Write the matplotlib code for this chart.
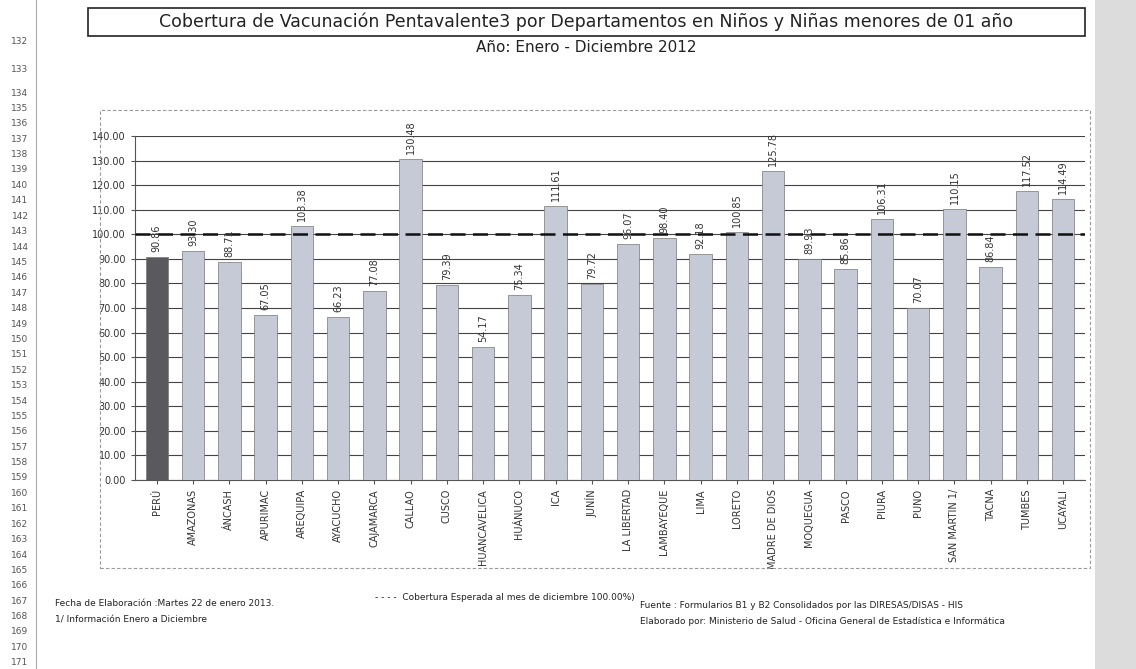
import matplotlib
matplotlib.use("Agg")
import matplotlib.pyplot as plt
from matplotlib.patches import Rectangle

departamentos = ["PERÚ", "AMAZONAS", "ÁNCASH", "APURIMAC", "AREQUIPA", "AYACUCHO",
                 "CAJAMARCA", "CALLAO", "CUSCO", "HUANCAVELICA", "HUÁNUCO", "ICA",
                 "JUNÍN", "LA LIBERTAD", "LAMBAYEQUE", "LIMA", "LORETO", "MADRE DE DIOS",
                 "MOQUEGUA", "PASCO", "PIURA", "PUNO", "SAN MARTIN 1/", "TACNA",
                 "TUMBES", "UCAYALI"]
cobertura = [90.86, 93.30, 88.71, 67.05, 103.38, 66.23,
             77.08, 130.48, 79.39, 54.17, 75.34, 111.61,
             79.72, 96.07, 98.40, 92.18, 100.85, 125.78,
             89.93, 85.86, 106.31, 70.07, 110.15, 86.84,
             117.52, 114.49]
meta = 100.0
yticks = [0, 10, 20, 30, 40, 50, 60, 70, 80, 90, 100, 110, 120, 130, 140]
filas = list(range(132, 172))

W, H = 1136, 669
fig = plt.figure(figsize=(W / 100, H / 100), dpi=100)
fig.patch.set_facecolor("white")

def fx(px):
    return px / W

def fy(py):
    return 1 - py / H

# spreadsheet right gray strip
fig.patches.append(Rectangle((fx(1095), 0), fx(41), 1, transform=fig.transFigure,
                             facecolor="#dcdcdc", edgecolor="none", zorder=0))

# row numbers (spreadsheet)
for n in filas:
    if n == 132:
        yy = 42
    elif n == 133:
        yy = 70
    else:
        yy = 93 + (n - 134) * 15.4
    fig.text(fx(20), fy(yy), str(n), fontsize=6.5, color="#555555",
             ha="center", va="center")
fig.add_artist(plt.Line2D([fx(36), fx(36)], [0, 1], transform=fig.transFigure,
                          color="#aaaaaa", lw=0.8))

# title box
fig.patches.append(Rectangle((fx(88), fy(36)), fx(1085 - 88), 28 / H,
                             transform=fig.transFigure, facecolor="none",
                             edgecolor="#222222", lw=1.2))
fig.text(fx(586), fy(22), "Cobertura de Vacunación Pentavalente3 por Departamentos en Niños y Niñas menores de 01 año",
         fontsize=12.5, ha="center", va="center", color="#222222")
fig.text(fx(586), fy(48), "Año: Enero - Diciembre 2012", fontsize=11, ha="center",
         va="center", color="#222222")

# outer chart box
fig.patches.append(Rectangle((fx(100), fy(568)), fx(1090 - 100), (568 - 110) / H,
                             transform=fig.transFigure, facecolor="none",
                             edgecolor="#999999", lw=0.8, ls=(0, (3, 2))))

ax = fig.add_axes([fx(135), fy(480), fx(1085 - 135), (480 - 136) / H])
x = list(range(len(departamentos)))
colors = ["#5a5a5e"] + ["#c6c9d6"] * (len(departamentos) - 1)
ax.bar(x, cobertura, width=0.62, color=colors, edgecolor="#777777", lw=0.5, zorder=3)
ax.set_ylim(0, 140)
ax.set_xlim(-0.6, len(departamentos) - 0.4)
ax.set_yticks(yticks)
ax.set_yticklabels([f"{v:.2f}" for v in yticks], fontsize=7, color="#333333")
ax.grid(axis="y", color="#444444", lw=0.8, zorder=1)
ax.axhline(meta, color="#111111", lw=1.8, ls=(0, (6, 3)), zorder=4)
ax.set_xticks(x)
ax.set_xticklabels(departamentos, rotation=90, fontsize=7, color="#333333")
ax.tick_params(axis="both", length=3, color="#555555")
for s in ["top", "right"]:
    ax.spines[s].set_visible(False)
ax.spines["left"].set_color("#555555")
ax.spines["bottom"].set_color("#555555")
for xi, v in zip(x, cobertura):
    ax.text(xi, v + 2, f"{v:.2f}", rotation=90, ha="center", va="bottom",
            fontsize=7, color="#333333", zorder=5)

# footer
fig.text(fx(55), fy(603), "Fecha de Elaboración :Martes 22 de enero 2013.", fontsize=6.5,
         va="center", color="#222222")
fig.text(fx(55), fy(620), "1/ Información Enero a Diciembre", fontsize=6.5,
         va="center", color="#222222")
fig.text(fx(375), fy(597), "- - - -  Cobertura Esperada al mes de diciembre 100.00%)",
         fontsize=6.5, va="center", color="#222222")
fig.text(fx(640), fy(605), "Fuente : Formularios B1 y B2 Consolidados por las DIRESAS/DISAS - HIS",
         fontsize=6.5, va="center", color="#222222")
fig.text(fx(640), fy(622), "Elaborado por: Ministerio de Salud - Oficina General de Estadística e Informática",
         fontsize=6.5, va="center", color="#222222")

fig.savefig("out.png", dpi=100)
